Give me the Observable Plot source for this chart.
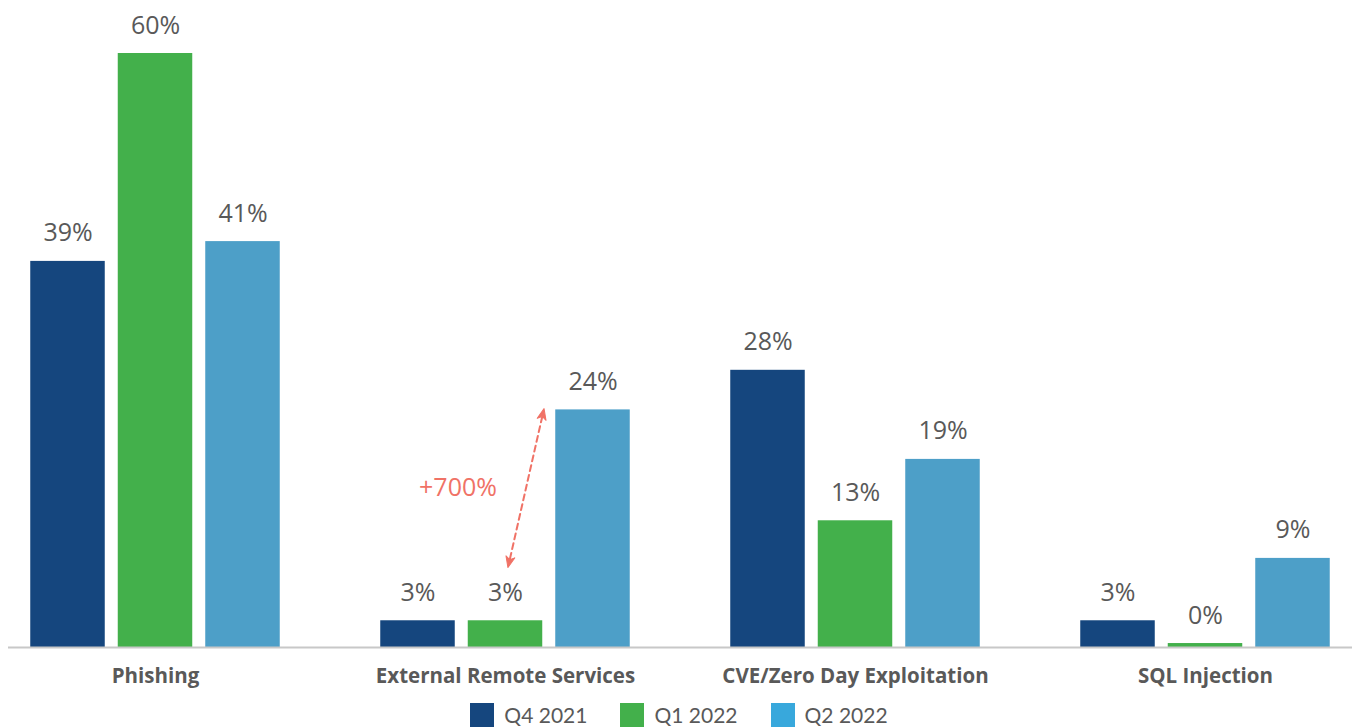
<!DOCTYPE html>
<html><head><meta charset="utf-8">
<script src="https://cdn.jsdelivr.net/npm/d3@7"></script>
<script src="https://cdn.jsdelivr.net/npm/@observablehq/plot@0.6"></script>
<style>
body{margin:0;background:#fff;font-family:Lato,"Open Sans",sans-serif;}
#legend{display:flex;justify-content:center;gap:33px;margin-top:3px;font-size:21px;color:#595959;line-height:24px;padding-left:5px}
.item{display:flex;align-items:center;gap:10px}
.sw{width:24px;height:24px;display:inline-block}
</style></head><body><div id="chart"></div><div id="legend"></div>
<script>
const categories = ["Phishing", "External Remote Services", "CVE/Zero Day Exploitation", "SQL Injection"];
const series = ["Q4 2021", "Q1 2022", "Q2 2022"];
const q4_2021 = [39, 2.7, 28, 2.7];
const q1_2022 = [60, 2.7, 12.8, 0.4];
const q2_2022 = [41, 24, 19, 9];
const barColors = ["#15467e", "#43b04b", "#4d9fc8"];
const legendColors = ["#15467e", "#43b04b", "#38a8dc"];
const annotation = [{category: "External Remote Services", from: 8.1, to: 24.1, label: "+700%"}];

const values = [q4_2021, q1_2022, q2_2022];
const rows = series.flatMap((s, si) => categories.map((c, ci) => ({category: c, series: s, value: values[si][ci]})));
const offsets = [-87.5, 0, 87.5];
const inset = (350.5 - 75) / 2;
const labelColor = "#595959";
const accent = "#f07266";
const openSans = "'Open Sans', sans-serif";

const lineShape = {draw(ctx, l) { ctx.moveTo(0, -9); ctx.lineTo(0, -l + 9); }};
const headShape = {draw(ctx, l) {
  ctx.moveTo(-4.5, -l + 11); ctx.lineTo(0, -l); ctx.lineTo(4.5, -l + 11); ctx.lineTo(0, -l + 8); ctx.closePath();
  ctx.moveTo(-4.5, -11); ctx.lineTo(0, 0); ctx.lineTo(4.5, -11); ctx.lineTo(0, -8); ctx.closePath();
}};
const mid = d => (d.from + d.to) / 2;

const marks = [];
series.forEach((s, i) => {
  const data = rows.filter(d => d.series === s);
  marks.push(Plot.barY(data, {x: "category", y: "value", fill: barColors[i], dx: offsets[i], insetLeft: inset, insetRight: inset}));
  marks.push(Plot.text(data, {x: "category", y: "value", text: d => Math.round(d.value) + "%", dx: offsets[i], dy: -20, lineAnchor: "bottom", fontSize: 25, fontFamily: openSans, fill: labelColor}));
});
marks.push(Plot.ruleY([0], {stroke: "#c8c8c8", strokeWidth: 2}));
marks.push(Plot.text(categories, {x: d => d, y: () => 0, dy: 29, fontWeight: "bold", fontSize: 20.5, fontFamily: openSans, fill: labelColor}));
marks.push(Plot.vector(annotation, {x: "category", y: mid, dx: 20.5, length: 163, rotate: 12.8, anchor: "middle", shape: lineShape, stroke: accent, strokeWidth: 2, strokeDasharray: "6,4"}));
marks.push(Plot.vector(annotation, {x: "category", y: mid, dx: 20.5, length: 163, rotate: 12.8, anchor: "middle", shape: headShape, stroke: accent, fill: accent, strokeWidth: 1}));
marks.push(Plot.text(annotation, {x: "category", y: mid, dx: -47.5, text: "label", fontSize: 25, fontFamily: openSans, fill: accent}));

const chart = Plot.plot({
  width: 1353,
  height: 700,
  marginLeft: 8,
  marginRight: 1,
  marginTop: 0,
  marginBottom: 0,
  style: {fontFamily: "Lato, sans-serif", background: "white"},
  x: {domain: categories, range: [-21.25, 1380.75], padding: 0, axis: null},
  y: {domain: [0, 60], range: [647, 53], axis: null},
  marks
});
document.getElementById("chart").appendChild(chart);

const legend = document.getElementById("legend");
series.forEach((s, i) => {
  const item = document.createElement("div");
  item.className = "item";
  const sw = document.createElement("span");
  sw.className = "sw";
  sw.style.background = legendColors[i];
  const t = document.createElement("span");
  t.textContent = s;
  item.append(sw, t);
  legend.append(item);
});
</script>
</body></html>
